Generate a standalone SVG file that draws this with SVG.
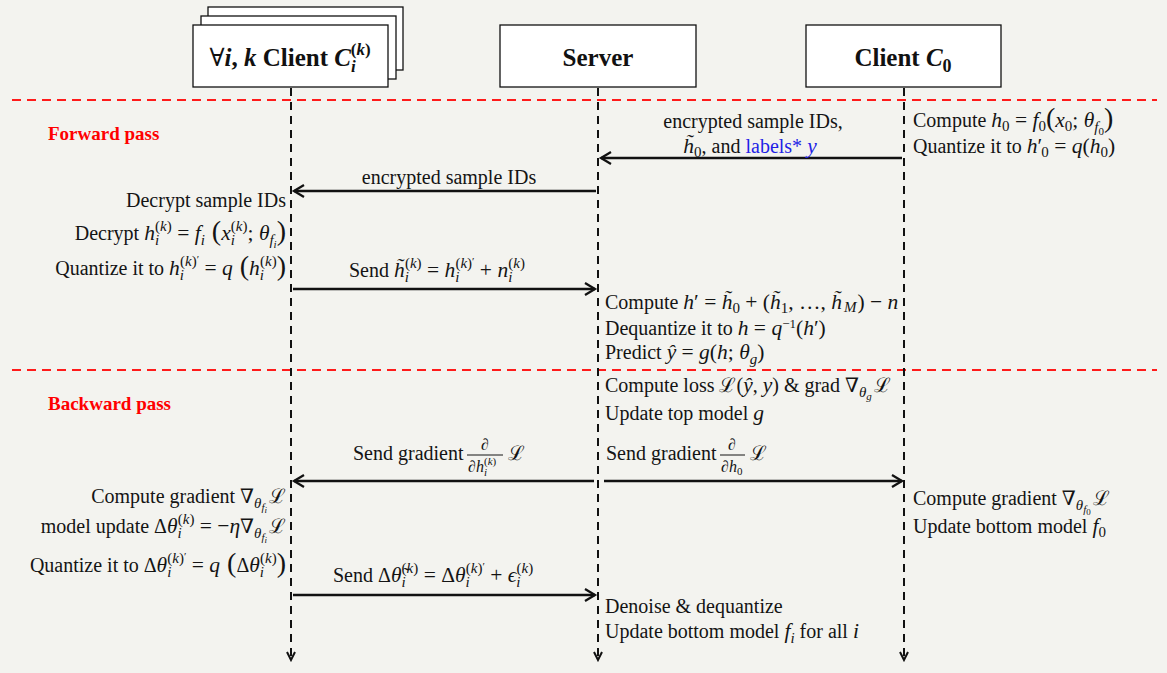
<svg xmlns="http://www.w3.org/2000/svg" width="1167" height="673" viewBox="0 0 1167 673">
<defs>
<style>
.t{font-family:"Liberation Serif","DejaVu Serif",serif;font-size:20px;fill:#141414}
.i{font-style:italic;font-size:21.5px}
.o{font-size:21.5px}
.s{font-size:15px}
.ss{font-size:11px}
.sss{font-size:9px}
.bp{font-size:28px}
.f{font-size:16px}
.h{font-family:"Liberation Serif","DejaVu Serif",serif;font-weight:bold;font-size:25px;fill:#111}
.red{font-family:"Liberation Serif",serif;font-weight:bold;font-size:19px;fill:#ff0000}
.blue{fill:#1f1fe6}
.box{fill:#ffffff;stroke:#111;stroke-width:1.3}
.life{stroke:#111;stroke-width:2;stroke-dasharray:8,6;fill:none}
.sep{stroke:#ff1a1a;stroke-width:2;stroke-dasharray:9,6;fill:none}
.arr{stroke:#111;stroke-width:2.5;fill:none;marker-end:url(#ah)}
</style>
<marker id="ah" markerUnits="userSpaceOnUse" markerWidth="16" markerHeight="16" refX="12" refY="7" orient="auto">
<path d="M2,1 L12,7 L2,13" fill="none" stroke="#111" stroke-width="2.3"/>
</marker>
<marker id="lh" markerUnits="userSpaceOnUse" markerWidth="12" markerHeight="12" refX="10" refY="5" orient="auto">
<path d="M2,1 L10,5 L2,9" fill="none" stroke="#111" stroke-width="2"/>
</marker>
</defs>
<rect width="1167" height="673" fill="#f3f3ef"/>

<g id="separators">
<line class="sep" x1="12" y1="100" x2="1157" y2="100"/>
<line class="sep" x1="12" y1="370" x2="1157" y2="370"/>
<text class="red" x="48" y="140">Forward pass</text>
<text class="red" x="48" y="410">Backward pass</text>
</g>

<g id="node-clients">
<rect class="box" x="208" y="7" width="195" height="63"/>
<rect class="box" x="201" y="16" width="195" height="63"/>
<rect class="box" x="193" y="25" width="195" height="62"/>
<text class="h" x="290" y="66" text-anchor="middle"><tspan font-weight="normal">∀</tspan><tspan font-style="italic">i</tspan>, <tspan font-style="italic">k</tspan> Client <tspan font-style="italic">C</tspan><tspan font-style="italic" font-size="17" dy="6">i</tspan><tspan font-size="17" dx="-5" dy="-17">(</tspan><tspan font-style="italic" font-size="17">k</tspan><tspan font-size="17">)</tspan></text>
</g>

<g id="node-server">
<rect class="box" x="500" y="25" width="196" height="62"/>
<text class="h" x="598" y="66" text-anchor="middle">Server</text>
</g>

<g id="node-client0">
<rect class="box" x="806" y="25" width="195" height="62"/>
<text class="h" x="903" y="66" text-anchor="middle">Client <tspan font-style="italic">C</tspan><tspan font-size="18" dy="6">0</tspan></text>
</g>

<g id="connectors">
<line class="life" x1="291" y1="88" x2="291" y2="660" marker-end="url(#lh)"/>
<line class="life" x1="598" y1="88" x2="598" y2="660" marker-end="url(#lh)"/>
<line class="life" x1="904" y1="88" x2="904" y2="660" marker-end="url(#lh)"/>
<line class="arr" x1="902" y1="158" x2="601" y2="158"/>
<line class="arr" x1="596" y1="191" x2="294" y2="191"/>
<line class="arr" x1="293" y1="289" x2="595" y2="289"/>
<line class="arr" x1="594" y1="481" x2="294" y2="481"/>
<line class="arr" x1="604" y1="481" x2="902" y2="481"/>
<line class="arr" x1="293" y1="595" x2="595" y2="595"/>
</g>

<g id="labels-forward">
<text class="t" x="753" y="128" text-anchor="middle">encrypted sample IDs,</text>
<text class="t" x="750" y="153" text-anchor="middle"><tspan class="i">h̃</tspan><tspan class="s" dy="4">0</tspan><tspan dy="-4">, and </tspan><tspan class="blue">labels* </tspan><tspan class="blue i">y</tspan></text>
<text class="t" x="913" y="127">Compute <tspan class="i">h</tspan><tspan class="s" dy="4">0</tspan><tspan class="o" dy="-4"> = </tspan><tspan class="i">f</tspan><tspan class="s" dy="4">0</tspan><tspan class="bp" dy="-4">(</tspan><tspan class="i">x</tspan><tspan class="s" dy="4">0</tspan><tspan class="o" dy="-4">; </tspan><tspan class="i">θ</tspan><tspan class="s i" dy="5">f</tspan><tspan class="ss" dy="3">0</tspan><tspan class="bp" dy="-8">)</tspan></text>
<text class="t" x="913" y="153">Quantize it to <tspan class="i">h</tspan><tspan class="o">′</tspan><tspan class="s" dx="-1" dy="4">0</tspan><tspan class="o" dy="-4"> = </tspan><tspan class="i">q</tspan><tspan class="o">(</tspan><tspan class="i">h</tspan><tspan class="s" dy="4">0</tspan><tspan class="o" dy="-4">)</tspan></text>

<text class="t" x="449" y="184" text-anchor="middle">encrypted sample IDs</text>
<text class="t" x="286" y="207" text-anchor="end">Decrypt sample IDs</text>
<text class="t" x="286" y="240" text-anchor="end">Decrypt <tspan class="i">h</tspan><tspan class="s i" dy="5">i</tspan><tspan class="s" dx="-4" dy="-14">(</tspan><tspan class="s i">k</tspan><tspan class="s">)</tspan><tspan class="o" dy="9"> = </tspan><tspan class="i">f</tspan><tspan class="s i" dy="5">i</tspan><tspan class="bp" dy="-5"> (</tspan><tspan class="i">x</tspan><tspan class="s i" dy="5">i</tspan><tspan class="s" dx="-4" dy="-14">(</tspan><tspan class="s i">k</tspan><tspan class="s">)</tspan><tspan class="o" dy="9">; </tspan><tspan class="i">θ</tspan><tspan class="s i" dy="5">f</tspan><tspan class="ss i" dy="3">i</tspan><tspan class="bp" dy="-8">)</tspan></text>
<text class="t" x="286" y="275" text-anchor="end">Quantize it to <tspan class="i">h</tspan><tspan class="s i" dy="5">i</tspan><tspan class="s" dx="-4" dy="-14">(</tspan><tspan class="s i">k</tspan><tspan class="s">)</tspan><tspan class="ss" dy="-3">′</tspan><tspan class="o" dy="12"> = </tspan><tspan class="i">q</tspan><tspan class="bp"> (</tspan><tspan class="i">h</tspan><tspan class="s i" dy="5">i</tspan><tspan class="s" dx="-4" dy="-14">(</tspan><tspan class="s i">k</tspan><tspan class="s">)</tspan><tspan class="bp" dy="9">)</tspan></text>

<text class="t" x="349" y="277">Send <tspan class="i">h̃</tspan><tspan class="s i" dy="5">i</tspan><tspan class="s" dx="-4" dy="-14">(</tspan><tspan class="s i">k</tspan><tspan class="s">)</tspan><tspan class="o" dy="9"> = </tspan><tspan class="i">h</tspan><tspan class="s i" dy="5">i</tspan><tspan class="s" dx="-4" dy="-14">(</tspan><tspan class="s i">k</tspan><tspan class="s">)</tspan><tspan class="ss" dy="-3">′</tspan><tspan class="o" dy="12"> + </tspan><tspan class="i">n</tspan><tspan class="s i" dy="5">i</tspan><tspan class="s" dx="-4" dy="-14">(</tspan><tspan class="s i">k</tspan><tspan class="s">)</tspan></text>

<text class="t" x="605" y="309">Compute <tspan class="i">h</tspan><tspan class="o">′ = </tspan><tspan class="i">h̃</tspan><tspan class="s" dy="4">0</tspan><tspan class="o" dy="-4"> + (</tspan><tspan class="i">h̃</tspan><tspan class="s" dy="4">1</tspan><tspan class="o" dy="-4">, …, </tspan><tspan class="i">h̃</tspan><tspan class="s i" dx="2" dy="3">M</tspan><tspan class="o" dx="1" dy="-3">) − </tspan><tspan class="i">n</tspan></text>
<text class="t" x="605" y="335">Dequantize it to <tspan class="i">h</tspan><tspan class="o"> = </tspan><tspan class="i">q</tspan><tspan font-size="13" dy="-7">−1</tspan><tspan class="o" dy="7">(</tspan><tspan class="i">h</tspan><tspan class="o">′)</tspan></text>
<text class="t" x="605" y="359">Predict <tspan class="i">ŷ</tspan><tspan class="o"> = </tspan><tspan class="i">g</tspan><tspan class="o">(</tspan><tspan class="i">h</tspan><tspan class="o">; </tspan><tspan class="i">θ</tspan><tspan class="s i" dy="5">g</tspan><tspan class="o" dy="-5">)</tspan></text>
</g>

<g id="labels-backward">
<text class="t" x="605" y="392">Compute loss ℒ(<tspan class="i">ŷ</tspan>, <tspan class="i">y</tspan>) &amp; grad ∇<tspan class="s i" dy="5">θ</tspan><tspan class="ss i" dy="3">g</tspan><tspan dx="2" dy="-8">ℒ</tspan></text>
<text class="t" x="605" y="420">Update top model <tspan class="i">g</tspan></text>

<text class="t" x="353" y="460">Send gradient</text>
<text class="t f" x="485" y="450" text-anchor="middle">∂</text>
<line x1="467" y1="455" x2="503" y2="455" stroke="#141414" stroke-width="1"/>
<text class="t f" x="468" y="472">∂<tspan class="i f">h</tspan><tspan class="ss i" dy="4">i</tspan><tspan class="ss" dx="-3" dy="-11">(</tspan><tspan class="ss i">k</tspan><tspan class="ss">)</tspan></text>
<text class="t" x="508" y="460">ℒ</text>

<text class="t" x="606" y="460">Send gradient</text>
<text class="t f" x="732" y="450" text-anchor="middle">∂</text>
<line x1="720" y1="455" x2="745" y2="455" stroke="#141414" stroke-width="1"/>
<text class="t f" x="721" y="472">∂<tspan class="i f">h</tspan><tspan class="ss" dy="3">0</tspan></text>
<text class="t" x="750" y="460">ℒ</text>

<text class="t" x="286" y="503" text-anchor="end">Compute gradient ∇<tspan class="s i" dy="5">θ</tspan><tspan class="ss i" dy="3">f</tspan><tspan class="sss i" dy="2">i</tspan><tspan dx="2" dy="-10">ℒ</tspan></text>
<text class="t" x="286" y="533" text-anchor="end">model update Δ<tspan class="i">θ</tspan><tspan class="s i" dy="5">i</tspan><tspan class="s" dx="-4" dy="-14">(</tspan><tspan class="s i">k</tspan><tspan class="s">)</tspan><tspan class="o" dy="9"> = −</tspan><tspan class="i">η</tspan>∇<tspan class="s i" dy="5">θ</tspan><tspan class="ss i" dy="3">f</tspan><tspan class="sss i" dy="2">i</tspan><tspan dx="2" dy="-10">ℒ</tspan></text>
<text class="t" x="286" y="572" text-anchor="end">Quantize it to Δ<tspan class="i">θ</tspan><tspan class="s i" dy="5">i</tspan><tspan class="s" dx="-4" dy="-14">(</tspan><tspan class="s i">k</tspan><tspan class="s">)</tspan><tspan class="ss" dy="-3">′</tspan><tspan class="o" dy="12"> = </tspan><tspan class="i">q</tspan><tspan class="bp"> (</tspan>Δ<tspan class="i">θ</tspan><tspan class="s i" dy="5">i</tspan><tspan class="s" dx="-4" dy="-14">(</tspan><tspan class="s i">k</tspan><tspan class="s">)</tspan><tspan class="bp" dy="9">)</tspan></text>

<text class="t" x="913" y="505">Compute gradient ∇<tspan class="s i" dy="5">θ</tspan><tspan class="ss i" dy="3">f</tspan><tspan class="sss" dy="2">0</tspan><tspan dx="2" dy="-10">ℒ</tspan></text>
<text class="t" x="913" y="533">Update bottom model <tspan class="i">f</tspan><tspan class="s" dy="4">0</tspan></text>

<text class="t" x="333" y="582">Send Δ<tspan class="i">θ̃</tspan><tspan class="s i" dy="5">i</tspan><tspan class="s" dx="-4" dy="-14">(</tspan><tspan class="s i">k</tspan><tspan class="s">)</tspan><tspan class="o" dy="9"> = Δ</tspan><tspan class="i">θ</tspan><tspan class="s i" dy="5">i</tspan><tspan class="s" dx="-4" dy="-14">(</tspan><tspan class="s i">k</tspan><tspan class="s">)</tspan><tspan class="ss" dy="-3">′</tspan><tspan class="o" dy="12"> + </tspan><tspan class="i">ϵ</tspan><tspan class="s i" dy="5">i</tspan><tspan class="s" dx="-4" dy="-14">(</tspan><tspan class="s i">k</tspan><tspan class="s">)</tspan></text>

<text class="t" x="605" y="613">Denoise &amp; dequantize</text>
<text class="t" x="605" y="638">Update bottom model <tspan class="i">f</tspan><tspan class="s i" dy="5">i</tspan><tspan dy="-5"> for all </tspan><tspan class="i">i</tspan></text>
</g>
</svg>
